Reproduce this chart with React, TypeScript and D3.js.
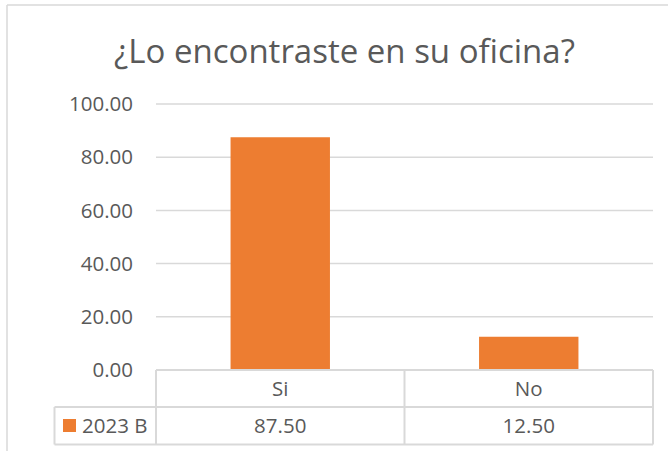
import React from "react";
import * as d3 from "d3";

const categories = ["Si", "No"];
const seriesName = "2023 B";
const values = [87.5, 12.5];
const yTicks = [0, 20, 40, 60, 80, 100];
const title = "¿Lo encontraste en su oficina?";

const W = 668;
const H = 451;
const FONT = "'Open Sans', sans-serif";
const TEXT = "#595959";
const GRID = "#d9d9d9";
const BAR = "#ED7D31";

export default function App() {
  const plotLeft = 156;
  const plotRight = 653;
  const y = d3.scaleLinear().domain([0, 100]).range([370, 104]);
  const xCat = d3.scaleBand().domain(categories).range([plotLeft, plotRight]).paddingInner(0).paddingOuter(0);
  const xBar = d3.scaleBand().domain(categories).range([plotLeft, plotRight]).paddingInner(0.6).paddingOuter(0.3);
  const tableLeft = 54.5;
  const rowTop = 370;
  const rowMid = 407;
  const rowBot = 444.5;
  const fmt = d3.format(".2f");

  return (
    <svg
      width={W}
      height={H}
      style={{ position: "absolute", left: 0, top: 0, background: "#fff" }}
    >
      <rect x={0} y={0} width={W} height={H} fill="#fff" />
      {/* chart border */}
      <line x1={7} y1={5} x2={W} y2={5} stroke={GRID} strokeWidth={1.5} />
      <line x1={7} y1={5} x2={7} y2={H} stroke={GRID} strokeWidth={1.5} />

      <text
        x={344.5}
        y={63}
        textAnchor="middle"
        fontFamily={FONT}
        fontSize={33}
        fill={TEXT}
      >
        {title}
      </text>

      {/* gridlines */}
      {yTicks.filter((t) => t > 0).map((t) => (
        <line key={t} x1={plotLeft} x2={plotRight} y1={y(t)} y2={y(t)} stroke={GRID} strokeWidth={1.5} />
      ))}
      {/* y tick labels */}
      {yTicks.map((t) => (
        <text
          key={t}
          x={133}
          y={y(t)}
          dy="0.35em"
          textAnchor="end"
          fontFamily={FONT}
          fontSize={20.5}
          fill={TEXT}
        >
          {fmt(t)}
        </text>
      ))}

      {/* bars */}
      {categories.map((c, i) => (
        <rect
          key={c}
          x={xBar(c)}
          y={y(values[i])}
          width={xBar.bandwidth()}
          height={y(0) - y(values[i])}
          fill={BAR}
        />
      ))}

      {/* data table */}
      <g stroke={GRID} strokeWidth={2} fill="none">
        <line x1={plotLeft} x2={plotRight} y1={rowTop} y2={rowTop} />
        <line x1={tableLeft} x2={plotRight} y1={rowMid} y2={rowMid} />
        <line x1={tableLeft} x2={plotRight} y1={rowBot} y2={rowBot} />
        <line x1={tableLeft} x2={tableLeft} y1={rowMid} y2={rowBot} />
        {categories.map((c) => (
          <line key={c} x1={xCat(c)} x2={xCat(c)} y1={rowTop} y2={rowBot} />
        ))}
        <line x1={plotRight} x2={plotRight} y1={rowTop} y2={rowBot} />
      </g>
      {categories.map((c, i) => (
        <g key={c}>
          <text
            x={(xCat(c) as number) + xCat.bandwidth() / 2}
            y={(rowTop + rowMid) / 2}
            dy="0.35em"
            textAnchor="middle"
            fontFamily={FONT}
            fontSize={20.5}
            fill={TEXT}
          >
            {c}
          </text>
          <text
            x={(xCat(c) as number) + xCat.bandwidth() / 2}
            y={(rowMid + rowBot) / 2}
            dy="0.35em"
            textAnchor="middle"
            fontFamily={FONT}
            fontSize={20.5}
            fill={TEXT}
          >
            {fmt(values[i])}
          </text>
        </g>
      ))}
      <rect x={63} y={419} width={13} height={13} fill={BAR} />
      <text
        x={82}
        y={(rowMid + rowBot) / 2}
        dy="0.35em"
        fontFamily={FONT}
        fontSize={20.5}
        fill={TEXT}
      >
        {seriesName}
      </text>
    </svg>
  );
}
